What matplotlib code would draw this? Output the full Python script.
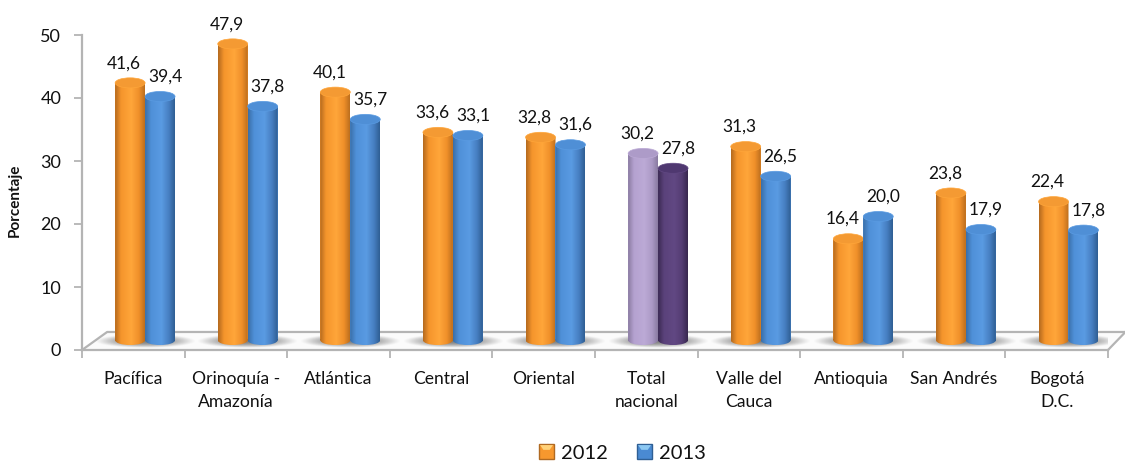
import numpy as np
import matplotlib
matplotlib.use('Agg')
import matplotlib.pyplot as plt
from matplotlib.patches import Ellipse, Patch, Polygon, Rectangle
from matplotlib.path import Path
from matplotlib.legend_handler import HandlerBase

plt.rcParams['font.family'] = ['Lato', 'DejaVu Sans']

# data
regiones = ['Pacífica', 'Orinoquía -\nAmazonía', 'Atlántica', 'Central', 'Oriental',
            'Total\nnacional', 'Valle del\nCauca', 'Antioquia', 'San Andrés', 'Bogotá\nD.C.']
v2012 = [41.6, 47.9, 40.1, 33.6, 32.8, 30.2, 31.3, 16.4, 23.8, 22.4]
v2013 = [39.4, 37.8, 35.7, 33.1, 31.6, 27.8, 26.5, 20.0, 17.9, 17.8]
yticks = [0, 10, 20, 30, 40, 50]

# colours: edge, middle, light, middle, far edge of the cylinder shading, then the top
naranja = ['#b56a1f', '#f5952c', '#ffa63a', '#f0902a', '#bd6f1e', '#f49a33']
azul = ['#3a6fa8', '#4f90d8', '#5a9be2', '#477fc2', '#2f5f94', '#4f8fd6']
lila = ['#8b7ca2', '#b5a2d0', '#bcaad6', '#ac9ac6', '#8a7ba2', '#ad9bc8']
morado = ['#3c2a54', '#5b427b', '#614883', '#553d74', '#38284f', '#4f3870']

W, H = 1125, 463
fig = plt.figure(figsize=(W / 100, H / 100), dpi=100)
ax = fig.add_axes([82 / W, 1 - 350 / H, (1108 - 82) / W, (350 - 35) / H])
ax.set_xlim(0, 10)
ax.set_ylim(0, 50)

# 3d look of the bars, in axis units
ancho = 0.292
desp = 0.115
base = 1.55
escala = 0.982
alto_elipse = 1.6


def sombrear(colores):
    c = np.array([matplotlib.colors.to_rgb(k) for k in colores[:5]])
    t = np.linspace(0, 1, 64)
    pos = [0, 0.2, 0.55, 0.8, 1]
    return np.dstack([np.interp(t, pos, c[:, i]) for i in range(3)])


def cilindro(x, valor, colores, z):
    top = base + valor * escala
    ax.bar(x, top - base, ancho, bottom=base, color=colores[1], zorder=z, linewidth=0)
    extent = [x - ancho / 2, x + ancho / 2, base - alto_elipse / 2, top]
    img = ax.imshow(sombrear(colores), extent=extent, aspect='auto', zorder=z + 0.1,
                    interpolation='bilinear')
    cuerpo = Rectangle((x - ancho / 2, base), ancho, top - base, transform=ax.transData)
    pie = Ellipse((x, base), ancho, alto_elipse * 0.95, transform=ax.transData)
    camino = Path.make_compound_path(cuerpo.get_path().transformed(cuerpo.get_patch_transform()),
                                     pie.get_path().transformed(pie.get_patch_transform()))
    img.set_clip_path(camino, ax.transData)
    ax.add_patch(Ellipse((x, top), ancho, alto_elipse, facecolor=colores[5],
                         edgecolor=colores[2], linewidth=0.5, zorder=z + 0.2))


def sombra(x):
    nx, ny = 160, 40
    xx, yy = np.meshgrid(np.linspace(-1, 1, nx), np.linspace(-1, 1, ny))
    a = np.clip(1 - (xx ** 2 + yy ** 2), 0, 1) ** 1.2 * 0.85
    rgba = np.zeros((ny, nx, 4))
    rgba[..., :3] = 0.42
    rgba[..., 3] = a
    ax.imshow(rgba, extent=[x - 0.49, x + 0.49, 0.3, 2.5], aspect='auto', zorder=1.5,
              interpolation='bilinear')


# floor of the 3d chart
gris = '#b4b4b4'
ax.add_patch(Polygon([[0, 0], [0.245, 2.86], [10.17, 2.86], [10, 0]], closed=True, facecolor='#fbfbfb',
                     edgecolor='none', zorder=1, clip_on=False))
ax.plot([0, 0.245, 10.17], [0, 2.86, 2.86], color=gris, lw=1.6, zorder=1.2, clip_on=False)
ax.plot([10, 10.17], [0, 2.86], color=gris, lw=1.6, zorder=1.2, clip_on=False)

for i in range(len(regiones)):
    cx = i + 0.5 + desp
    sombra(cx)
    c1, c2 = naranja, azul
    if regiones[i].startswith('Total'):
        c1, c2 = lila, morado
    cilindro(cx - ancho / 2, v2012[i], c1, 3)
    cilindro(cx + ancho / 2, v2013[i], c2, 4)
    ax.annotate(f'{v2012[i]:.1f}'.replace('.', ','), (cx - ancho / 2, base + v2012[i] * escala),
                xytext=(-4.3, 14.2), textcoords='offset points', ha='center', va='center',
                fontsize=12.5, color='#111111', zorder=6, annotation_clip=False)
    ax.annotate(f'{v2013[i]:.1f}'.replace('.', ','), (cx + ancho / 2, base + v2013[i] * escala),
                xytext=(3.6, 14.2), textcoords='offset points', ha='center', va='center',
                fontsize=12.5, color='#111111', zorder=6, annotation_clip=False)

ax.set_xlim(0, 10)
ax.set_ylim(0, 50)

# axes
for s in ['top', 'right']:
    ax.spines[s].set_visible(False)
for s in ['left', 'bottom']:
    ax.spines[s].set_color(gris)
    ax.spines[s].set_linewidth(1.6)
    ax.spines[s].set_zorder(2)

ax.set_yticks(yticks)
ax.tick_params(axis='y', length=6, width=1.3, color=gris, labelsize=13, pad=9, labelcolor='#111111')
ax.set_xticks(np.arange(0, 11))
ax.set_xticklabels([])
ax.tick_params(axis='x', which='major', length=5.5, width=1.3, color=gris)
ax.set_xticks(np.arange(len(regiones)) + 0.5, minor=True)
ax.set_xticklabels(regiones, minor=True, fontsize=12.6, color='#111111', linespacing=1.55)
ax.tick_params(axis='x', which='minor', length=0, pad=15)

ax.set_ylabel('Porcentaje', fontsize=11, fontweight='bold', color='#111111')
ax.yaxis.set_label_coords(-60 / (1108 - 82), 0.475)


# legend swatch with the lighter top edge of the reference
class Muestra(HandlerBase):
    def create_artists(self, legend, orig, xd, yd, w, h, fontsize, trans):
        x0, y0 = -xd + (w - h) / 2, -yd
        cara = orig.get_facecolor()
        borde = orig.get_edgecolor()
        r = Rectangle((x0, y0), h, h, facecolor=cara, edgecolor=borde, linewidth=1.0, transform=trans)
        claro = orig.get_label() == '2012' and '#ffd27a' or '#8cc8f2'
        p = Polygon([[x0 + 0.5, y0 + h - 0.5], [x0 + h - 0.5, y0 + h - 0.5],
                     [x0 + h * 0.72, y0 + h * 0.62], [x0 + h * 0.28, y0 + h * 0.62]],
                    closed=True, facecolor=claro, edgecolor='none', transform=trans)
        return [r, p]


hs = [Patch(facecolor='#f7982e', edgecolor='#b06a22', label='2012'),
      Patch(facecolor='#4a8ad2', edgecolor='#2f5f94', label='2013')]
leg = fig.legend(handles=hs, loc='center', bbox_to_anchor=(621 / W, 1 - 453 / H), ncol=2, frameon=False,
                 fontsize=14.5, handler_map={Patch: Muestra()}, handlelength=1.0, handleheight=0.72,
                 handletextpad=0.2, columnspacing=1.34, borderpad=0, labelcolor='#111111')

fig.savefig('out.png', dpi=100)
